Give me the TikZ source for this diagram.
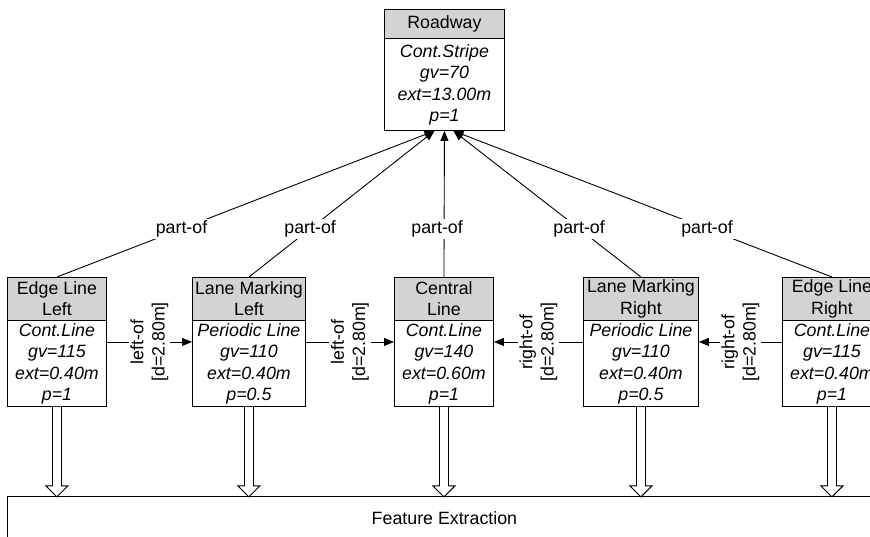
\documentclass[tikz,border=0pt]{standalone}
\usepackage{fontspec}
\setmainfont{Liberation Sans}
\usetikzlibrary{arrows.meta,calc}
\definecolor{hdrgray}{RGB}{211,211,211}
\tikzset{
  txt/.style={font=\fontsize{17.8}{21.3}\selectfont, inner sep=0pt},
  boxframe/.style={draw, line width=0.9pt, inner sep=0pt},
  hdr/.style={draw, fill=hdrgray, line width=0.9pt, align=center, txt},
  bodytxt/.style={align=center, inner sep=0pt, font=\fontsize{17.8}{21.3}\selectfont\itshape},
  arr/.style={line width=0.9pt, -{Triangle[length=10pt,width=8pt]}},
  lbl/.style={fill=white, txt, inner sep=2pt},
  sidelbl/.style={fill=white, txt, inner sep=2pt, rotate=90, align=center},
  hollow/.style={draw, fill=white, line width=0.9pt, line join=miter},
}
\newcommand\mkbox[5]{%
  \node[boxframe, minimum width=#3, minimum height=129pt, anchor=north west] (#1) at (#2,277) {};
  \node[hdr, minimum width=#3, minimum height=43pt, anchor=north] (#1H) at (#1.north) {#4};
  \node[bodytxt] (#1B) at ($(#1H.south)!0.5!(#1.south)$) {#5};
}
\begin{document}
\begin{tikzpicture}[x=1pt,y=-1pt]
\useasboundingbox (0,0) rectangle (870,536);
\clip (0,0) rectangle (870,536);
% Roadway
\node[boxframe, minimum width=120pt, minimum height=121pt, anchor=north west] (road) at (384,9) {};
\node[hdr, minimum width=120pt, minimum height=29pt, anchor=north] (roadH) at (road.north) {Roadway};
\node[bodytxt] (roadB) at ($(roadH.south)!0.5!(road.south)$) {Cont.Stripe\\gv=70\\ext=13.00m\\p=1};
% children
\mkbox{ell}{7}{99pt}{Edge Line\\Left}{Cont.Line\\gv=115\\ext=0.40m\\p=1}
\mkbox{lml}{192}{113pt}{Lane Marking\\Left}{Periodic Line\\gv=110\\ext=0.40m\\p=0.5}
\mkbox{cl}{394}{99pt}{Central\\Line}{Cont.Line\\gv=140\\ext=0.60m\\p=1}
\mkbox{lmr}{583}{115pt}{Lane Marking\\Right}{Periodic Line\\gv=110\\ext=0.40m\\p=0.5}
\mkbox{elr}{782}{99pt}{Edge Line\\Right}{Cont.Line\\gv=115\\ext=0.40m\\p=1}
% part-of
\draw[arr] (ellH.north) -- node[lbl,pos=0.33]{part-of} ([xshift=-10pt]road.south);
\draw[arr] (lmlH.north) -- node[lbl,pos=0.33]{part-of} ([xshift=-10pt]road.south);
\draw[arr] (clH.north) -- node[lbl,pos=0.33,xshift=-7pt]{part-of} (road.south);
\draw[arr] (lmrH.north) -- node[lbl,pos=0.33]{part-of} ([xshift=9pt]road.south);
\draw[arr] (elrH.north) -- node[lbl,pos=0.33]{part-of} ([xshift=9pt]road.south);
% side relations
\draw[arr] (ell.east) -- node[sidelbl]{left-of\\{[d=2.80m]}} (lml.west);
\draw[arr] (lml.east) -- node[sidelbl]{left-of\\{[d=2.80m]}} (cl.west);
\draw[arr] (lmr.west) -- node[sidelbl]{right-of\\{[d=2.80m]}} (cl.east);
\draw[arr] (elr.west) -- node[sidelbl]{right-of\\{[d=2.80m]}} (lmr.east);
% feature extraction
\node[boxframe, txt, minimum width=874pt, minimum height=44pt, anchor=north west] (fe) at (7,496) {Feature Extraction};
\foreach \n in {ell,lml,cl,lmr,elr}{
  \draw[hollow] (\n.south) ++(-4.5,0) -- ++(0,79) -- ++(-6.5,0) -- ++(11,11) -- ++(11,-11) -- ++(-6.5,0) -- ++(0,-79);
}
\end{tikzpicture}
\end{document}
